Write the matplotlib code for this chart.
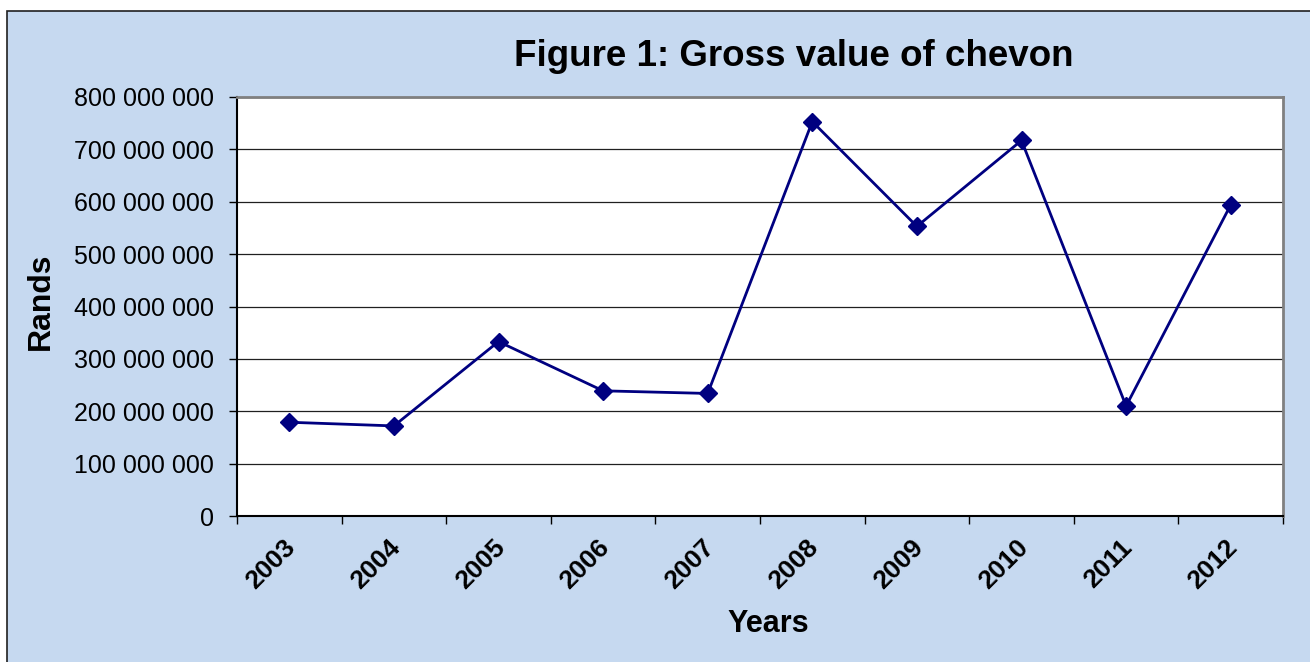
import numpy as np
import matplotlib
matplotlib.use("Agg")
import matplotlib.pyplot as plt
from matplotlib.ticker import FuncFormatter, MultipleLocator, FixedLocator
from matplotlib.patches import Rectangle

years = ["2003", "2004", "2005", "2006", "2007", "2008", "2009", "2010", "2011", "2012"]
rands = [179e6, 172e6, 333e6, 239e6, 234e6, 753e6, 553e6, 717e6, 210e6, 594e6]

plt.rcParams['font.family'] = ['Liberation Sans', 'DejaVu Sans']

W, H = 1310, 662
fig = plt.figure(figsize=(W / 100, H / 100), dpi=100)
fig.patch.set_facecolor("white")

# chart area background with dark frame
fig.patches.append(Rectangle((7 / W, -0.1), 1.1, 1.1 - 10.5 / H, transform=fig.transFigure,
                             facecolor="#C6D9F0", edgecolor="#202020", linewidth=1.2,
                             zorder=-1))

ax = fig.add_axes([237 / W, 1 - 516 / H, (1283 - 237) / W, (516 - 97) / H])
ax.set_facecolor("white")

x = np.arange(len(years))
ax.plot(x, rands, color="#000080", linewidth=2.0, marker="D", markersize=9,
        markerfacecolor="#000080", markeredgecolor="#000080", zorder=3)

ax.set_xlim(-0.5, len(years) - 0.5)
ax.set_ylim(0, 800e6)
ax.yaxis.set_major_locator(MultipleLocator(100e6))
ax.yaxis.set_major_formatter(FuncFormatter(lambda v, p: "{:,.0f}".format(v).replace(",", " ")))
ax.grid(axis="y", color="#202020", linewidth=0.9)
ax.set_axisbelow(True)

# ticks sit on category boundaries, labels at category centres
ax.xaxis.set_major_locator(FixedLocator(x - 0.055))
ax.xaxis.set_minor_locator(FixedLocator(np.arange(-0.5, len(years), 1.0)))
ax.set_xticklabels(years, rotation=45, ha="right", va="top", rotation_mode="anchor",
                   fontsize=19, fontweight="bold")
ax.tick_params(axis="x", which="major", length=0, pad=14)
ax.tick_params(axis="x", which="minor", length=6, width=1, color="black")
ax.tick_params(axis="y", length=6, width=1, labelsize=18, pad=10.5)

for s in ["top", "right"]:
    ax.spines[s].set_color("#808080")
    ax.spines[s].set_linewidth(2)
for s in ["left", "bottom"]:
    ax.spines[s].set_color("black")
    ax.spines[s].set_linewidth(1.5)

fig.text(794 / W, 1 - 56 / H, "Figure 1: Gross value of chevon", ha="center", va="center",
         fontsize=26.5, fontweight="bold")
fig.text(768 / W, 1 - 624 / H, "Years", ha="center", va="center", fontsize=22, fontweight="bold")
fig.text(41 / W, 1 - 301 / H, "Rands", ha="center", va="center", rotation=90,
         fontsize=23, fontweight="bold")

fig.savefig("out.png", dpi=100)
